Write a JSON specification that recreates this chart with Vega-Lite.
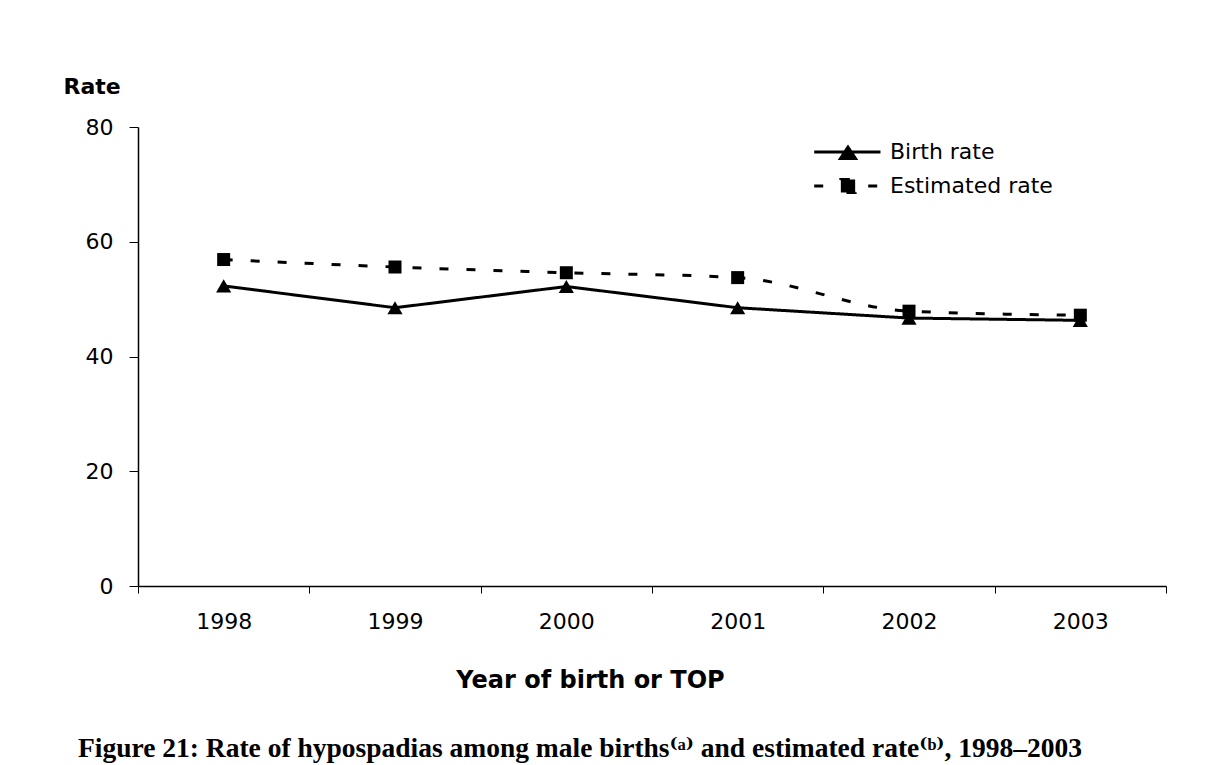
{
  "$schema": "https://vega.github.io/schema/vega-lite/v6.json",
  "autosize": "none",
  "width": 1028,
  "height": 459,
  "padding": {"left": 138, "top": 127, "right": 63, "bottom": 179},
  "background": "white",
  "title": {
    "text": "Figure 21: Rate of hypospadias among male births⁽ᵃ⁾ and estimated rate⁽ᵇ⁾, 1998–2003",
    "orient": "bottom",
    "anchor": "start",
    "frame": "group",
    "dx": -60,
    "offset": 65,
    "baseline": "alphabetic",
    "font": "Liberation Serif, DejaVu Serif",
    "fontSize": 27.5,
    "fontWeight": "bold",
    "color": "black"
  },
  "data": {
    "values": [
      {"year": "1998", "series": "Birth rate", "rate": 52.3},
      {"year": "1999", "series": "Birth rate", "rate": 48.5},
      {"year": "2000", "series": "Birth rate", "rate": 52.2},
      {"year": "2001", "series": "Birth rate", "rate": 48.5},
      {"year": "2002", "series": "Birth rate", "rate": 46.7},
      {"year": "2003", "series": "Birth rate", "rate": 46.3},
      {"year": "1998", "series": "Estimated rate", "rate": 56.9},
      {"year": "1999", "series": "Estimated rate", "rate": 55.6},
      {"year": "2000", "series": "Estimated rate", "rate": 54.6},
      {"year": "2001", "series": "Estimated rate", "rate": 53.75},
      {"year": "2002", "series": "Estimated rate", "rate": 47.9},
      {"year": "2003", "series": "Estimated rate", "rate": 47.2}
    ]
  },
  "encoding": {
    "x": {
      "field": "year",
      "type": "ordinal",
      "scale": {"paddingInner": 0, "paddingOuter": 0},
      "axis": {
        "title": "Year of birth or TOP",
        "labelAngle": 0,
        "tickBand": "extent",
        "tickSize": 7,
        "tickColor": "black",
        "tickWidth": 1,
        "domainColor": "black",
        "domainWidth": 1.5,
        "labelFont": "DejaVu Sans",
        "labelFontSize": 22,
        "labelColor": "black",
        "labelPadding": 18,
        "titleFont": "DejaVu Sans",
        "titleFontSize": 24,
        "titleFontWeight": "bold",
        "titleColor": "black",
        "titleAlign": "center",
        "titleBaseline": "alphabetic",
        "titleX": 452,
        "titleY": 101
      }
    },
    "y": {
      "field": "rate",
      "type": "quantitative",
      "scale": {"domain": [0, 80], "nice": false},
      "axis": {
        "title": "Rate",
        "values": [0, 20, 40, 60, 80],
        "grid": false,
        "tickSize": 9,
        "tickColor": "black",
        "tickWidth": 1,
        "domainColor": "black",
        "domainWidth": 1.5,
        "labelFont": "DejaVu Sans",
        "labelFontSize": 22,
        "labelColor": "black",
        "labelPadding": 16,
        "titleFont": "DejaVu Sans",
        "titleFontSize": 22,
        "titleFontWeight": "bold",
        "titleColor": "black",
        "titleAngle": 0,
        "titleAlign": "left",
        "titleBaseline": "alphabetic",
        "titleX": -75,
        "titleY": -34
      }
    }
  },
  "layer": [
    {
      "transform": [{"filter": "datum.series === 'Birth rate'"}],
      "mark": {"type": "line", "color": "black", "strokeWidth": 3, "interpolate": "linear"},
      "encoding": {
        "strokeDash": {
          "field": "series",
          "type": "nominal",
          "scale": {"domain": ["Birth rate", "Estimated rate"], "range": [[1, 0], [9, 18]]},
          "legend": {
            "orient": "none",
            "legendX": 699,
            "legendY": 14,
            "title": null,
            "padding": 0,
            "symbolSize": 169,
            "symbolStrokeWidth": 3,
            "symbolStrokeColor": "black",
            "symbolFillColor": "black",
            "labelFont": "DejaVu Sans",
            "labelFontSize": 22,
            "labelColor": "black",
            "labelOffset": 31,
            "labelLimit": 400,
            "rowPadding": 8,
            "encode": {
              "symbols": {
                "update": {
                  "shape": {"signal": "datum.value === 'Birth rate' ? 'M-5.2,0L5.0,0M0,-0.75L1.15,1L-1.15,1Z' : 'M-5.2,0L5.0,0M-1.1,-1L1.1,-1L1.1,1L-1.1,1Z'"},
                  "fill": {"value": "black"},
                  "stroke": {"value": "black"},
                  "strokeWidth": {"value": 3},
                  "strokeOpacity": {"value": 1},
                  "opacity": {"value": 1}
                }
              }
            }
          }
        }
      }
    },
    {
      "transform": [{"filter": "datum.series === 'Estimated rate'"}],
      "mark": {"type": "line", "color": "black", "strokeWidth": 3, "interpolate": "monotone"},
      "encoding": {
        "strokeDash": {"field": "series", "type": "nominal"}
      }
    },
    {
      "transform": [{"filter": "datum.series === 'Birth rate'"}],
      "mark": {"type": "point", "filled": true, "color": "black", "opacity": 1, "shape": "triangle-up", "size": 230},
      "encoding": {}
    },
    {
      "transform": [{"filter": "datum.series === 'Estimated rate'"}],
      "mark": {"type": "point", "filled": true, "color": "black", "opacity": 1, "shape": "square", "size": 169},
      "encoding": {}
    }
  ],
  "config": {
    "view": {"stroke": null}
  }
}
